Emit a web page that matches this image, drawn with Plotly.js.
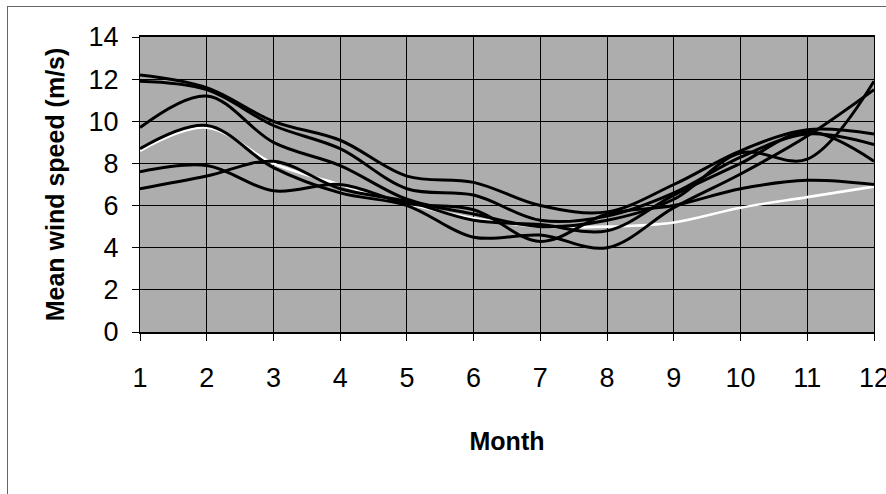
<!DOCTYPE html>
<html>
<head>
<meta charset="utf-8">
<script src="https://cdn.plot.ly/plotly-3.0.1.min.js"></script>
<style>
  html, body { margin: 0; padding: 0; background: #ffffff; }
  #wrap { position: relative; width: 886px; height: 494px; overflow: hidden; }
  #chart { width: 886px; height: 494px; }
  #frame { position: absolute; left: 7px; top: 6px; width: 880px; height: 500px;
           border: 1px solid #666; pointer-events: none; }
</style>
</head>
<body>
<div id="wrap">
  <div id="chart"></div>
  <div id="frame"></div>
</div>
<script>
const months = [1, 2, 3, 4, 5, 6, 7, 8, 9, 10, 11, 12];
const tickLabels = ['1','2','3','4','5','6','7','8','9','10','11','12'];

const seriesA = [12.2, 11.6, 10.0, 9.1, 7.4, 7.1, 6.0, 5.7, 7.0, 8.6, 9.6, 9.4];
const seriesB = [11.9, 11.5, 9.8, 8.7, 6.8, 6.5, 5.3, 5.5, 6.6, 8.3, 9.4, 8.9];
const seriesC = [9.7, 11.2, 9.0, 7.9, 6.3, 5.6, 5.0, 5.3, 6.3, 8.5, 8.2, 11.9];
const seriesD = [8.7, 9.8, 7.8, 6.6, 6.0, 4.5, 4.6, 4.0, 5.9, 7.5, 9.3, 11.5];
const seriesE = [7.6, 7.9, 6.7, 7.0, 6.1, 5.8, 4.3, 5.6, 6.0, 6.8, 7.2, 7.0];
const seriesF = [6.8, 7.4, 8.1, 6.8, 6.2, 5.3, 5.1, 4.8, 6.5, 8.0, 9.5, 8.1];
const seriesW = [8.6, 9.7, 8.0, 7.0, 6.1, 5.4, 5.0, 5.0, 5.2, 5.9, 6.4, 6.9];

const blackSeries = [seriesA, seriesB, seriesC, seriesD, seriesE, seriesF];

const traces = [];
traces.push({
  x: months, y: seriesW, type: 'scatter', mode: 'lines',
  line: { color: '#ffffff', width: 2.6, shape: 'spline', smoothing: 1 },
  hoverinfo: 'skip', showlegend: false
});
blackSeries.forEach(s => {
  traces.push({
    x: months, y: s, type: 'scatter', mode: 'lines',
    line: { color: '#000000', width: 3, shape: 'spline', smoothing: 1 },
    hoverinfo: 'skip', showlegend: false
  });
});

const layout = {
  width: 886, height: 494,
  margin: { l: 140, r: 12, t: 37, b: 162 },
  paper_bgcolor: '#ffffff',
  plot_bgcolor: '#adadad',
  showlegend: false,
  font: { family: 'Liberation Sans, Arial, sans-serif', color: '#000000' },
  xaxis: {
    range: [1, 12],
    tickvals: months,
    ticktext: tickLabels,
    ticks: 'outside', ticklen: 7, tickcolor: '#000', tickwidth: 1,
    ticklabelstandoff: 14,
    ticklabeloverflow: 'allow',
    tickfont: { size: 27, family: 'Liberation Sans, Arial, sans-serif' },
    showgrid: true, gridcolor: '#000000', gridwidth: 1,
    showline: true, linecolor: '#000000', linewidth: 2, mirror: true,
    zeroline: false,
    title: { text: '<b>Month</b>', standoff: 40,
             font: { size: 25, family: 'Liberation Sans, Arial, sans-serif' } }
  },
  yaxis: {
    range: [0, 14],
    dtick: 2,
    ticks: 'outside', ticklen: 7, tickcolor: '#000', tickwidth: 1,
    ticklabelstandoff: 8,
    tickfont: { size: 27, family: 'Liberation Sans, Arial, sans-serif' },
    showgrid: true, gridcolor: '#000000', gridwidth: 1,
    showline: true, linecolor: '#000000', linewidth: 1, mirror: true,
    zeroline: false,
    title: { text: '<b>Mean wind speed (m/s)</b>', standoff: 16,
             font: { size: 25, family: 'Liberation Sans, Arial, sans-serif' } }
  }
};

Plotly.newPlot('chart', traces, layout, { displayModeBar: false, staticPlot: true });
</script>
</body>
</html>
